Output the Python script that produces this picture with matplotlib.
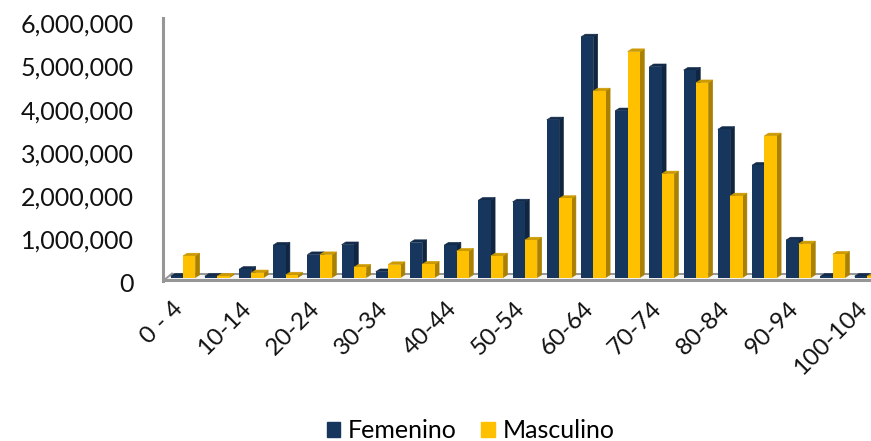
import matplotlib
matplotlib.use("Agg")
import matplotlib.pyplot as plt
from matplotlib.patches import Polygon, Patch
from matplotlib.transforms import ScaledTranslation

plt.rcParams["font.family"] = ["Lato", "DejaVu Sans"]

groups = ["0 - 4", "5-9", "10-14", "15-19", "20-24", "25-29", "30-34", "35-39",
          "40-44", "45-49", "50-54", "55-59", "60-64", "65-69", "70-74", "75-79",
          "80-84", "85-89", "90-94", "95-99", "100-104"]
femenino = [0.03, 0.03, 0.19, 0.75, 0.53, 0.76, 0.135, 0.81, 0.75, 1.79, 1.75,
            3.65, 5.57, 3.86, 4.88, 4.80, 3.43, 2.60, 0.87, 0.03, 0.03]
masculino = [0.50, 0.03, 0.11, 0.06, 0.53, 0.24, 0.30, 0.31, 0.61, 0.50, 0.87,
             1.83, 4.32, 5.23, 2.40, 4.51, 1.89, 3.28, 0.78, 0.54, 0.03]
y_ticks = [0, 1, 2, 3, 4, 5, 6]

W, H = 871, 441
PX_X = 34.2   # pixels per category
PX_Y = 43.2   # pixels per million
BAR = 12.4 / PX_X
DX = 4.3 / PX_X
DY = 2.7 / PX_Y


def shade(ax, x, val, front, side, top):
    z = 3 + x * 0.01
    # side and top go under the front face so no seam shows between them
    ax.add_patch(Polygon([(x + BAR, 0), (x + BAR + DX, DY), (x + BAR + DX, val + DY), (x + BAR, val)],
                         facecolor=side, edgecolor=side, lw=0.4, zorder=z))
    ax.add_patch(Polygon([(x, val), (x + DX, val + DY), (x + BAR + DX, val + DY), (x + BAR, val)],
                         facecolor=top, edgecolor=top, lw=0.4, zorder=z))
    ax.bar(x, val, BAR, align="edge", color=front, edgecolor="none", zorder=z + 0.001)


def shift_labels(labels, fig, px, py):
    # nudge tick labels by a pixel offset
    offset = ScaledTranslation(px / 100, py / 100, fig.dpi_scale_trans)
    for lab in labels:
        lab.set_transform(lab.get_transform() + offset)


def main():
    fig = plt.figure(figsize=(W / 100, H / 100), dpi=100)
    left, right, top, bottom = 163, 871, 18, 281
    ax = fig.add_axes([left / W, 1 - bottom / H, (right - left) / W, (bottom - top) / H])
    ax.set_xlim((left - 183) / PX_X, (right - 183) / PX_X)
    ax.set_ylim((277.5 - bottom) / PX_Y, (277.5 - top) / PX_Y)
    for s in ax.spines.values():
        s.set_visible(False)

    x0, x1 = ax.get_xlim()
    y0, y1 = ax.get_ylim()
    gray = "#969696"
    depth_x, depth_y = 9 / PX_X, 7.5 / PX_Y
    ax.add_patch(Polygon([(x0, y0), (x0 + depth_x, y0 + depth_y), (x1, y0 + depth_y), (x1, y0)],
                         facecolor="#f4f4f4", edgecolor="none", zorder=1))
    ax.plot([x0 + depth_x, x1], [y0 + depth_y] * 2, color=gray, lw=1.4, zorder=2)
    ax.plot([x0, x0 + depth_x], [y0, y0 + depth_y], color=gray, lw=1.4, zorder=2)
    ax.plot([x0, x1], [y0 + 0.02, y0 + 0.02], color=gray, lw=2.2, zorder=2, clip_on=False)
    ax.plot([x0, x0], [y0, y1], color=gray, lw=2.2, zorder=2, clip_on=False)

    for i in range(len(groups)):
        shade(ax, i - BAR, femenino[i], "#17365d", "#10253f", "#122b4a")
        shade(ax, i, masculino[i], "#ffc000", "#a98000", "#cc9a00")

    ax.set_yticks(y_ticks)
    ax.set_yticklabels([f"{v * 1000000:,}" for v in y_ticks], fontsize=18, color="#111111")
    ax.tick_params(axis="y", length=0, pad=21)
    shift_labels(ax.get_yticklabels(), fig, 0, -5)
    ax.set_xticks(range(0, len(groups), 2))
    ax.set_xticklabels(groups[::2], rotation=45, ha="right", rotation_mode="anchor",
                       fontsize=17.5, color="#111111")
    ax.tick_params(axis="x", length=0, pad=13)
    shift_labels(ax.get_xticklabels(), fig, -11, 1)

    handles = [Patch(color="#17365d", label="Femenino"), Patch(color="#ffc000", label="Masculino")]
    fig.legend(handles=handles, loc="lower center", bbox_to_anchor=(470.5 / W, -0.054), ncol=2,
               frameon=False, fontsize=18, handlelength=0.55, handleheight=0.55,
               handletextpad=0.3, columnspacing=0.98)

    fig.savefig("out.png", dpi=100)


if __name__ == "__main__":
    main()
